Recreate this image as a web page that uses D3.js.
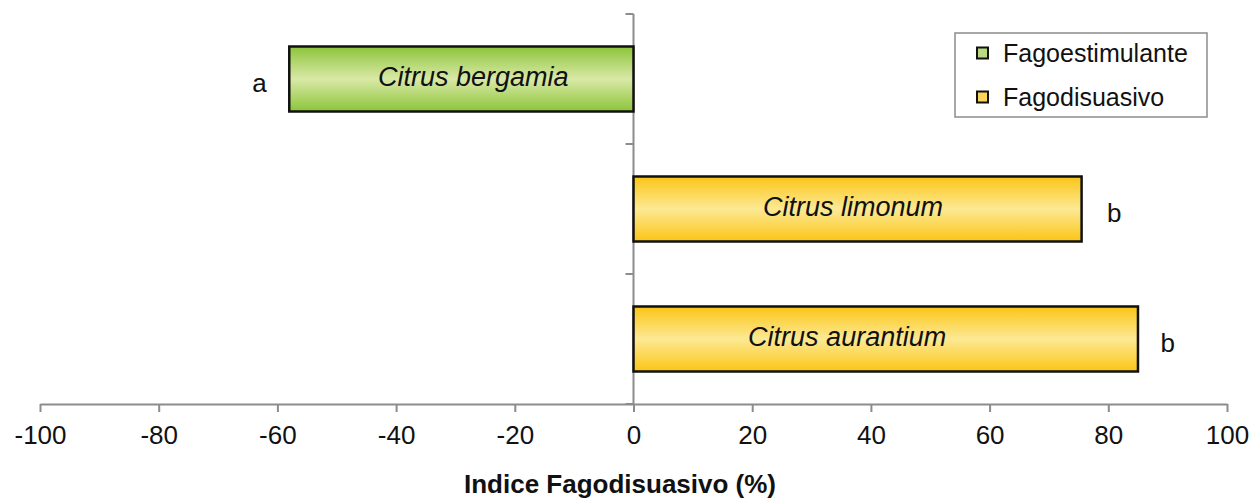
<!DOCTYPE html>
<html>
<head>
<meta charset="utf-8">
<script src="https://d3js.org/d3.v7.min.js"></script>
<style>
  html, body { margin: 0; padding: 0; background: #fff; }
  svg { display: block; font-family: "Liberation Sans", Arial, Helvetica, sans-serif; }
</style>
</head>
<body>
<svg id="chart" width="1251" height="499"></svg>
<script>
// ---- data ----
const categories = ["Citrus bergamia", "Citrus limonum", "Citrus aurantium"];
const values = [-58, 75.5, 85];
const groups = ["Fagoestimulante", "Fagodisuasivo", "Fagodisuasivo"];
const letters = ["a", "b", "b"];
const labelX = [-27, 37, 36];      // label centre, in index units
const letterX = [-63, 81, 90];     // significance letter centre, in index units
const xTicks = [-100, -80, -60, -40, -20, 0, 20, 40, 60, 80, 100];
const legendItems = ["Fagoestimulante", "Fagodisuasivo"];
const xTitle = "Indice Fagodisuasivo (%)";

// ---- layout ----
const svg = d3.select("#chart");
const x = d3.scaleLinear().domain([-100, 100]).range([40, 1227]);
const y = d3.scaleBand().domain(categories).range([14, 404]).paddingInner(0.5).paddingOuter(0.25);
const yEdges = d3.scaleLinear().domain([0, categories.length]).range([14, 404]);

const defs = svg.append("defs");
function grad(id, edge, mid) {
  const g = defs.append("linearGradient").attr("id", id)
    .attr("x1", 0).attr("y1", 0).attr("x2", 0).attr("y2", 1);
  g.append("stop").attr("offset", "0%").attr("stop-color", edge);
  g.append("stop").attr("offset", "50%").attr("stop-color", mid);
  g.append("stop").attr("offset", "100%").attr("stop-color", edge);
}
grad("gGreen", "#8cc43a", "#d9e9a6");
grad("gYellow", "#fac515", "#fde994");
const fillFor = { "Fagoestimulante": "url(#gGreen)", "Fagodisuasivo": "url(#gYellow)" };
const legendFill = { "Fagoestimulante": "#b9da80", "Fagodisuasivo": "#f9d55a" };

const axisColor = "#8c8c8c";
const fontSize = 26;

// x axis
const xAxis = svg.append("g").attr("transform", "translate(0,404)")
  .call(d3.axisBottom(x).tickValues(xTicks).tickFormat(d => String(d))
    .tickSize(8).tickSizeOuter(0).tickPadding(14));
xAxis.select(".domain").attr("stroke", axisColor).attr("stroke-width", 2);
xAxis.selectAll(".tick line").attr("stroke", axisColor).attr("stroke-width", 2);
xAxis.selectAll(".tick text").attr("font-size", fontSize).attr("fill", "#111")
  .attr("font-family", "'Liberation Sans', Arial, sans-serif");

// y axis at zero
const yAxisG = svg.append("g").attr("transform", `translate(${x(0)},0)`);
yAxisG.append("line").attr("x1", 0).attr("x2", 0)
  .attr("y1", yEdges(0)).attr("y2", yEdges(categories.length))
  .attr("stroke", axisColor).attr("stroke-width", 2);
yAxisG.selectAll("line.tk").data(d3.range(categories.length + 1)).join("line")
  .attr("class", "tk")
  .attr("x1", -8).attr("x2", 0)
  .attr("y1", d => yEdges(d)).attr("y2", d => yEdges(d))
  .attr("stroke", axisColor).attr("stroke-width", 2);

// bars
const data = categories.map((c, i) => ({ c, v: values[i], g: groups[i], l: letters[i], lx: labelX[i], sx: letterX[i] }));
svg.append("g").selectAll("rect").data(data).join("rect")
  .attr("x", d => x(Math.min(0, d.v)))
  .attr("width", d => Math.abs(x(d.v) - x(0)))
  .attr("y", d => y(d.c))
  .attr("height", y.bandwidth())
  .attr("fill", d => fillFor[d.g])
  .attr("stroke", "#111").attr("stroke-width", 2.5);

// bar labels
svg.append("g").selectAll("text").data(data).join("text")
  .attr("x", d => x(d.lx))
  .attr("y", d => y(d.c) + y.bandwidth() / 2 + 7)
  .attr("text-anchor", "middle")
  .attr("font-style", "italic")
  .attr("font-size", 27)
  .attr("fill", "#111")
  .text(d => d.c);

// significance letters
svg.append("g").selectAll("text").data(data).join("text")
  .attr("x", d => x(d.sx))
  .attr("y", d => y(d.c) + y.bandwidth() / 2 + 12.5)
  .attr("text-anchor", "middle")
  .attr("font-size", fontSize)
  .attr("fill", "#111")
  .text(d => d.l);

// x title
svg.append("text")
  .attr("x", 620).attr("y", 493)
  .attr("text-anchor", "middle")
  .attr("font-weight", "bold")
  .attr("font-size", fontSize)
  .attr("fill", "#111")
  .text(xTitle);

// legend
const lg = svg.append("g").attr("transform", "translate(955,33)");
lg.append("rect").attr("width", 252).attr("height", 84)
  .attr("fill", "#fff").attr("stroke", axisColor).attr("stroke-width", 1.5);
const li = lg.selectAll("g.it").data(legendItems).join("g").attr("class", "it")
  .attr("transform", (d, i) => `translate(0,${20 + i * 44})`);
li.append("rect").attr("x", 22).attr("y", -5.5).attr("width", 11).attr("height", 11)
  .attr("fill", d => legendFill[d]).attr("stroke", "#111").attr("stroke-width", 2);
li.append("text").attr("x", 48).attr("y", 9)
  .attr("font-size", 25).attr("fill", "#111").text(d => d);
</script>
</body>
</html>
